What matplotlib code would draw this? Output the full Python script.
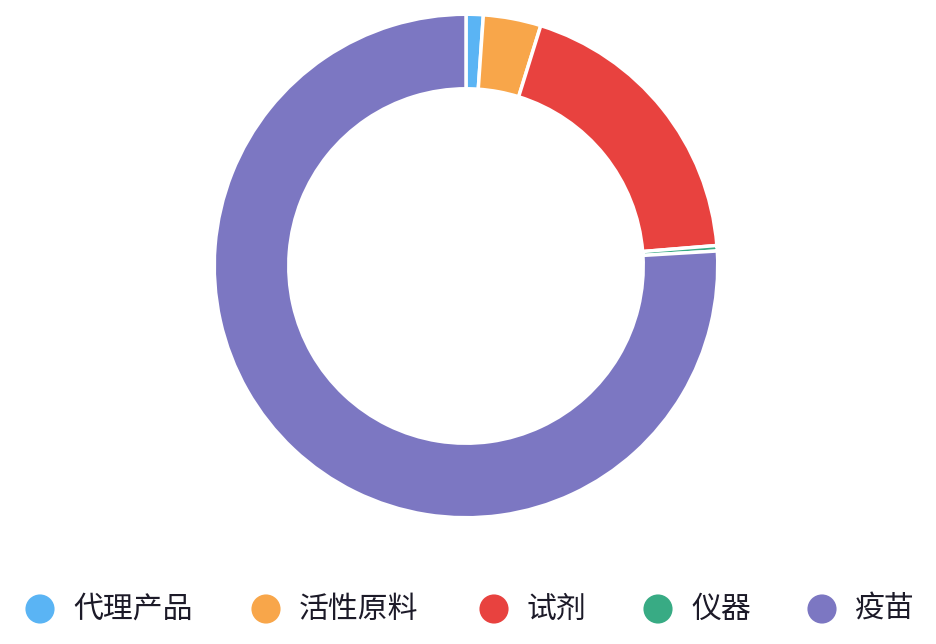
import matplotlib
matplotlib.use("Agg")
import matplotlib.pyplot as plt

plt.rcParams['font.family'] = ['Noto Sans CJK SC', 'DejaVu Sans']

labels = ['代理产品', '活性原料', '试剂', '仪器', '疫苗']
values = [1.1, 3.7, 18.9, 0.35, 75.95]
colors = ['#5ab4f4', '#f8a64a', '#e8423f', '#38ab84', '#7c77c2']

fig = plt.figure(figsize=(9.36, 6.44), dpi=100)
fig.patch.set_facecolor('white')

# donut: centre (466, 266) px, outer radius 253 px
W, H = 936, 644
cx, cy, r = 466, 266, 253
ax = fig.add_axes([(cx - r) / W, (H - cy - r) / H, 2 * r / W, 2 * r / H])
ax.pie(values, colors=colors, startangle=90, counterclock=False, radius=1,
       wedgeprops=dict(width=0.296, edgecolor='white', linewidth=2.5))
ax.set_xlim(-1.005, 1.005)
ax.set_ylim(-1.005, 1.005)
ax.set_aspect('equal')
ax.axis('off')

# legend along the bottom
lax = fig.add_axes([0, 0, 1, 1])
lax.set_xlim(0, W)
lax.set_ylim(H, 0)
lax.axis('off')
marker_x = [40, 266, 494, 658, 822]
ly = 609
for x, lab, c in zip(marker_x, labels, colors):
    lax.scatter([x], [ly], s=440, color=c, edgecolors='none')
    lax.text(x + 33, ly, lab, fontsize=21.5, color='#1c1a28',
             va='center', ha='left', fontweight='medium')

fig.savefig('out.png', dpi=100, facecolor='white')
